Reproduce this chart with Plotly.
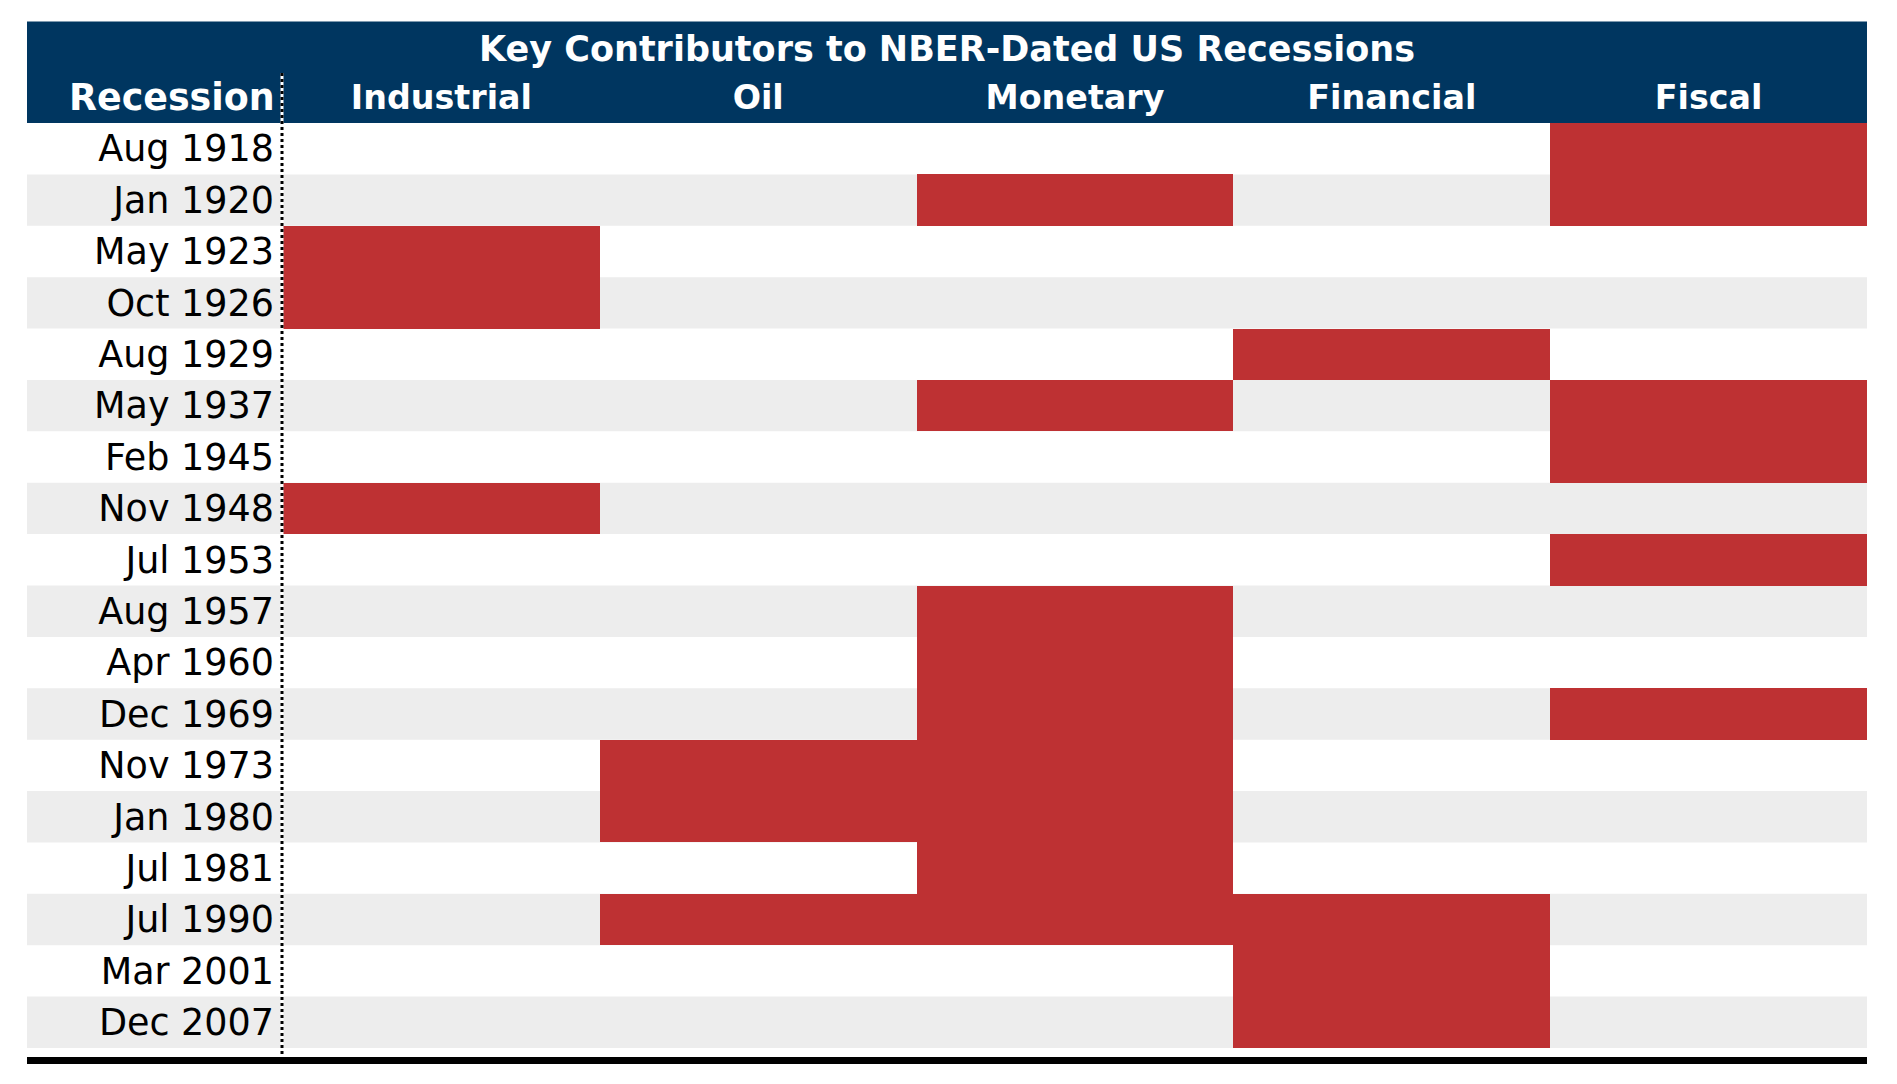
import plotly.graph_objects as go

# ---------------- data ----------------
title_text = "Key Contributors to NBER-Dated US Recessions"
row_header = "Recession"
factors = ["Industrial", "Oil", "Monetary", "Financial", "Fiscal"]
recessions = ["Aug 1918", "Jan 1920", "May 1923", "Oct 1926", "Aug 1929", "May 1937",
              "Feb 1945", "Nov 1948", "Jul 1953", "Aug 1957", "Apr 1960", "Dec 1969",
              "Nov 1973", "Jan 1980", "Jul 1981", "Jul 1990", "Mar 2001", "Dec 2007"]
industrial = [0, 0, 1, 1, 0, 0, 0, 1, 0, 0, 0, 0, 0, 0, 0, 0, 0, 0]
oil        = [0, 0, 0, 0, 0, 0, 0, 0, 0, 0, 0, 0, 1, 1, 0, 1, 0, 0]
monetary   = [0, 1, 0, 0, 0, 1, 0, 0, 0, 1, 1, 1, 1, 1, 1, 1, 0, 0]
financial  = [0, 0, 0, 0, 1, 0, 0, 0, 0, 0, 0, 0, 0, 0, 0, 1, 1, 1]
fiscal     = [1, 1, 0, 0, 0, 1, 1, 0, 1, 0, 0, 1, 0, 0, 0, 0, 0, 0]

# ---------------- styling ----------------
NAVY = "#003660"
RED = "#BE3133"
GRAY = "#EDEDED"
FONT = "DejaVu Sans"

W, H = 1897, 1084
OFF = 8  # page body margin
# plot area in page pixels: x 283..1867, y 123..1048
PX0, PX1, PY0, PY1 = 283, 1867, 123, 1048
PW, PH = PX1 - PX0, PY1 - PY0
L, T = PX0 - OFF, PY0 - OFF
R, B = W - L - PW, H - T - PH


def px_x(x):
    return (x - PX0) / PW


def px_y(y):
    return (PY1 - y) / PH


cols = [industrial, oil, monetary, financial, fiscal]
z = [[1 if cols[j][i] else None for j in range(len(factors))] for i in range(len(recessions))]

fig = go.Figure()
fig.add_trace(go.Heatmap(
    x=factors, y=recessions, z=z,
    colorscale=[[0, RED], [1, RED]], zmin=0, zmax=1,
    showscale=False, hoverinfo="skip", xgap=0, ygap=0,
))

shapes = []
# header band
shapes.append(dict(type="rect", xref="paper", yref="paper",
                   x0=px_x(27), x1=1, y0=1, y1=px_y(21.5),
                   fillcolor=NAVY, line=dict(width=0), layer="below"))
# alternating row stripes
for i in range(len(recessions)):
    if i % 2 == 1:
        shapes.append(dict(type="rect", xref="paper", yref="y",
                           x0=px_x(27), x1=1, y0=i - 0.5, y1=i + 0.5,
                           fillcolor=GRAY, line=dict(width=0), layer="below"))
# dotted divider
shapes.append(dict(type="line", xref="paper", yref="paper",
                   x0=px_x(282), x1=px_x(282), y0=px_y(73), y1=px_y(1058),
                   line=dict(color="white", width=3), layer="above"))
shapes.append(dict(type="line", xref="paper", yref="paper",
                   x0=px_x(282), x1=px_x(282), y0=px_y(73), y1=px_y(1058),
                   line=dict(color="black", width=3, dash="dot"), layer="above"))
# bottom rule
shapes.append(dict(type="line", xref="paper", yref="paper",
                   x0=px_x(27), x1=1, y0=px_y(1060.5), y1=px_y(1060.5),
                   line=dict(color="black", width=7), layer="above"))

annotations = [
    dict(text=title_text, xref="paper", yref="paper", x=px_x(947), y=px_y(49),
         xanchor="center", yanchor="middle", showarrow=False,
         font=dict(family=FONT, size=35, color="white", weight="bold")),
    dict(text=row_header, xref="paper", yref="paper", x=px_x(277), y=px_y(97),
         xanchor="right", yanchor="middle", showarrow=False,
         font=dict(family=FONT, size=36.4, color="white", weight="bold")),
]

fig.update_layout(
    width=W, height=H,
    margin=dict(l=L, r=R, t=T, b=B, pad=0),
    paper_bgcolor="white", plot_bgcolor="rgba(0,0,0,0)",
    shapes=shapes, annotations=annotations, showlegend=False,
    xaxis=dict(side="top", type="category", showgrid=False, zeroline=False, showline=False,
               ticks="", ticklabelstandoff=6,
               tickfont=dict(family=FONT, size=33.3, color="white", weight="bold"),
               fixedrange=True),
    yaxis=dict(type="category", autorange="reversed", showgrid=False, zeroline=False,
               showline=False, ticks="", ticklabelstandoff=8,
               tickfont=dict(family=FONT, size=36.5, color="black"),
               fixedrange=True),
)

fig.write_html("out.html")
